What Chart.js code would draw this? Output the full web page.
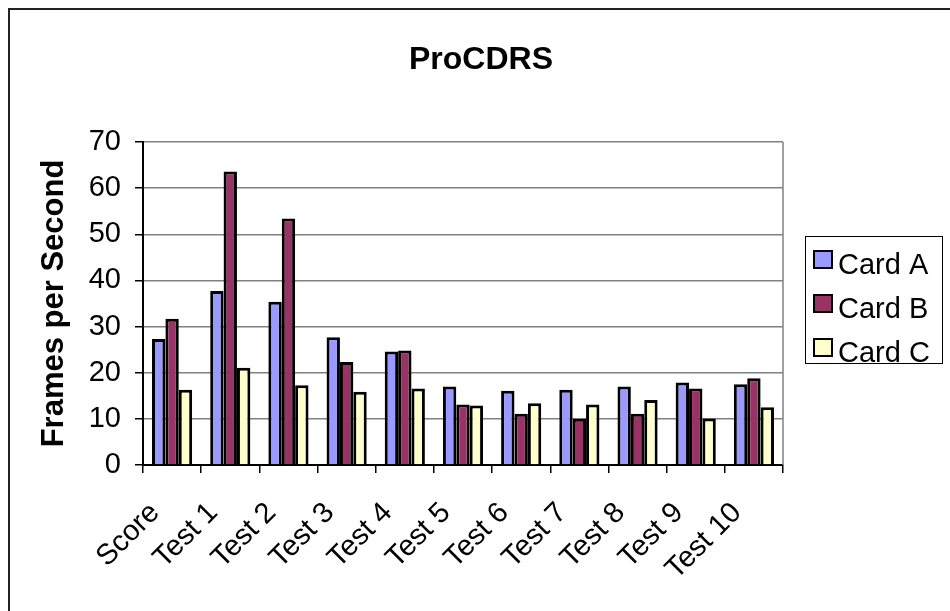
<!DOCTYPE html>
<html>
<head>
<meta charset="utf-8">
<script src="https://cdn.jsdelivr.net/npm/chart.js"></script>
<style>
  html, body { margin: 0; padding: 0; background: #fff; }
</style>
</head>
<body>
<canvas id="chart1" width="950" height="611"></canvas>
<script>
var categories = ["Score", "Test 1", "Test 2", "Test 3", "Test 4", "Test 5",
  "Test 6", "Test 7", "Test 8", "Test 9", "Test 10"];
var cardA = [27.3, 37.7, 35.4, 27.7, 24.6, 17.0, 16.1, 16.3, 17.0, 17.9, 17.5];
var cardB = [31.7, 63.6, 53.4, 22.3, 24.8, 13.1, 11.1, 10.0, 11.1, 16.6, 18.8];
var cardC = [16.3, 21.1, 17.3, 15.9, 16.6, 12.9, 13.4, 13.1, 14.1, 10.1, 12.5];
var seriesNames = ["Card A", "Card B", "Card C"];
var seriesColors = ["#9999FF", "#993366", "#FFFFCC"];
var yMax = 70;
var yStep = 10;

var FONT = "'Liberation Sans', Arial, sans-serif";

// title, outer frame and boxed legend drawn by hand
var framePlugin = {
  id: "frame",
  afterDraw: function (chart) {
    var ctx = chart.ctx;
    var area = chart.chartArea;
    ctx.save();

    // right edge of plot area
    ctx.strokeStyle = "#808080";
    ctx.lineWidth = 1.5;
    ctx.beginPath();
    ctx.moveTo(area.right, area.top);
    ctx.lineTo(area.right, area.bottom);
    ctx.stroke();

    // outer chart border (left and top only visible)
    ctx.strokeStyle = "#222";
    ctx.lineWidth = 2;
    ctx.beginPath();
    ctx.moveTo(9, 611);
    ctx.lineTo(9, 9);
    ctx.lineTo(950, 9);
    ctx.stroke();

    // title
    ctx.fillStyle = "#000";
    ctx.font = "bold 32px " + FONT;
    ctx.textAlign = "center";
    ctx.textBaseline = "middle";
    ctx.fillText("ProCDRS", 481, 60);

    // legend
    ctx.strokeStyle = "#000";
    ctx.lineWidth = 1;
    ctx.strokeRect(805.5, 236.5, 137, 127);
    ctx.font = "29px " + FONT;
    ctx.textAlign = "left";
    chart.data.datasets.forEach(function (ds, i) {
      var cy = 266 + i * 44;
      ctx.fillStyle = ds.backgroundColor;
      ctx.fillRect(814, cy - 15, 18, 17);
      ctx.lineWidth = 2;
      ctx.strokeRect(814, cy - 15, 18, 17);
      ctx.fillStyle = "#000";
      ctx.fillText(ds.label, 838, cy);
    });
    ctx.restore();
  }
};

var ctx = document.getElementById("chart1");
var myChart = new Chart(ctx, {
  type: "bar",
  data: {
    labels: categories,
    datasets: [
      { label: seriesNames[0], data: cardA, backgroundColor: seriesColors[0] },
      { label: seriesNames[1], data: cardB, backgroundColor: seriesColors[1] },
      { label: seriesNames[2], data: cardC, backgroundColor: seriesColors[2] }
    ].map(function (ds) {
      ds.borderColor = "#000";
      ds.borderWidth = 3;
      ds.categoryPercentage = 0.69;
      ds.barPercentage = 1.0;
      return ds;
    })
  },
  options: {
    responsive: false,
    animation: false,
    devicePixelRatio: 1,
    layout: { padding: { left: 10, top: 142, right: 167, bottom: 0 } },
    plugins: {
      legend: { display: false },
      title: { display: false },
      tooltip: { enabled: false }
    },
    scales: {
      x: {
        grid: {
          offset: true,
          drawOnChartArea: false,
          tickLength: 8,
          color: "#000",
          lineWidth: 1.5
        },
        border: { color: "#000", width: 2 },
        ticks: {
          autoSkip: false,
          minRotation: 45,
          maxRotation: 45,
          color: "#000",
          padding: 23,
          labelOffset: -17,
          font: { family: FONT, size: 29 }
        },
        afterFit: function (scale) { scale.height = 146; }
      },
      y: {
        min: 0,
        max: yMax,
        grid: {
          color: "#808080",
          lineWidth: 1.5,
          tickLength: 8,
          tickColor: "#000"
        },
        border: { color: "#000", width: 2 },
        ticks: {
          stepSize: yStep,
          color: "#000",
          padding: 14,
          font: { family: FONT, size: 29 }
        },
        title: {
          display: true,
          text: "Frames per Second",
          color: "#000",
          padding: { top: 26, bottom: 0 },
          font: { family: FONT, size: 31, weight: "bold" }
        },
        afterFit: function (scale) { scale.width = 133; }
      }
    }
  },
  plugins: [framePlugin]
});
</script>
</body>
</html>
